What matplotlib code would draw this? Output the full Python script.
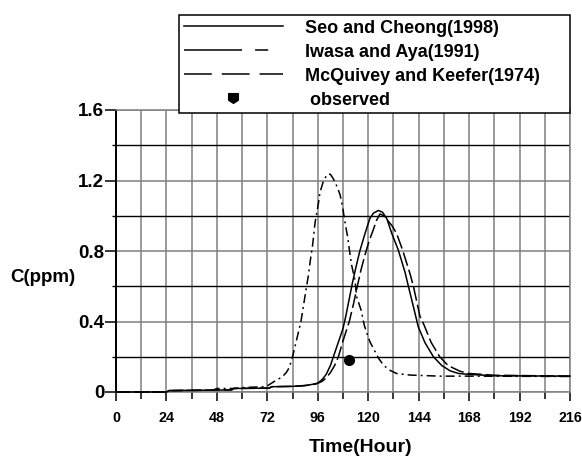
import numpy as np
import matplotlib
matplotlib.use("Agg")
import matplotlib.pyplot as plt
from matplotlib.lines import Line2D
from matplotlib.path import Path

plt.rcParams['font.family'] = ['Liberation Sans', 'DejaVu Sans']
plt.rcParams['font.weight'] = 'bold'
plt.rcParams['lines.scale_dashes'] = False

# ---------------- data ----------------
series_names = ["Seo and Cheong(1998)", "Iwasa and Aya(1991)",
                "McQuivey and Keefer(1974)", " observed"]

seo_t = [0, 24, 25, 55, 56, 73, 74, 84, 88, 92, 96, 98, 100, 102, 104, 106, 108,
         109.5, 111, 112.5, 114, 116, 118.5, 120.8, 122.5, 124.8, 126.8, 128.8,
         131.2, 134.3, 137.5, 139.1, 141.5, 143.8, 147, 151, 155, 159, 163, 168,
         180, 216]
seo_c = [0, 0, 0.008, 0.012, 0.02, 0.022, 0.03, 0.032, 0.035, 0.04, 0.05, 0.07,
         0.1, 0.15, 0.22, 0.29, 0.36, 0.44, 0.53, 0.62, 0.7, 0.8, 0.9, 0.985,
         1.015, 1.03, 1.02, 0.985, 0.9, 0.806, 0.68, 0.6, 0.484, 0.37, 0.28, 0.2,
         0.15, 0.12, 0.105, 0.1, 0.092, 0.09]

iwasa_t = [0, 24, 25, 55, 56, 73, 74, 84, 90, 95, 98, 100, 102, 104, 105.8, 108,
           111, 113, 114.8, 116.5, 118.5, 120.5, 122.4, 124, 125.6, 127.5, 129.5,
           131.5, 133.5, 136.5, 139.9, 141.5, 144.6, 146.2, 150, 154, 158, 163.6,
           168, 180, 216]
iwasa_c = [0, 0, 0.008, 0.012, 0.02, 0.022, 0.03, 0.032, 0.036, 0.045, 0.06, 0.08,
           0.11, 0.15, 0.2, 0.29, 0.4, 0.5, 0.6, 0.69, 0.78, 0.86, 0.92, 0.975, 1.01,
           1.0, 0.97, 0.94, 0.9, 0.8, 0.67, 0.6, 0.43, 0.39, 0.28, 0.2, 0.15, 0.118,
           0.105, 0.095, 0.09]

mcq_t = [0, 24, 26, 46, 48, 56, 60, 66, 70, 72, 74, 76, 79, 81, 82.5, 84, 86, 88,
         90, 91.5, 92.5, 93.5, 94.7, 96.3, 97, 98.5, 100, 101, 102, 103.4, 105,
         106.6, 107.8, 109, 110.2, 111, 112.1, 113.7, 114.5, 116.6, 118.1, 120,
         121, 123.2, 125, 127.2, 130, 133.5, 140, 154, 168, 216]
mcq_c = [0, 0, 0.008, 0.01, 0.02, 0.02, 0.025, 0.028, 0.03, 0.035, 0.05, 0.065,
         0.085, 0.11, 0.14, 0.2, 0.3, 0.4, 0.55, 0.66, 0.75, 0.83, 0.96, 1.07, 1.13,
         1.19, 1.225, 1.237, 1.235, 1.21, 1.17, 1.12, 1.05, 0.96, 0.88, 0.81, 0.72,
         0.635, 0.54, 0.465, 0.38, 0.31, 0.28, 0.23, 0.19, 0.153, 0.125, 0.105,
         0.096, 0.09, 0.09, 0.088]

obs_t = [111]
obs_c = [0.18]

x_ticks = [0, 24, 48, 72, 96, 120, 144, 168, 192, 216]
y_ticks = [0, 0.4, 0.8, 1.2, 1.6]
y_tick_labels = ["0", "0.4", "0.8", "1.2", "1.6"]

# ---------------- figure ----------------
W, H = 582, 458
fig = plt.figure(figsize=(W / 100, H / 100), dpi=100)
L, R, T, B = 116, 570, 110, 392
ax = fig.add_axes([L / W, 1 - B / H, (R - L) / W, (B - T) / H])

gray = '#808080'
ax.set_xlim(0, 216)
ax.set_ylim(0, 1.6)
ax.set_xticks(x_ticks)
ax.set_xticks(np.arange(12, 216, 24), minor=True)
ax.set_yticks(y_ticks)
ax.set_yticklabels(y_tick_labels)
ax.set_yticks([0.2, 0.6, 1.0, 1.4], minor=True)

ax.set_axisbelow(True)
ax.grid(which='major', axis='both', color=gray, lw=1.1)
ax.grid(which='minor', axis='x', color=gray, lw=1.1)
ax.grid(which='minor', axis='y', color='black', lw=1.0)

for s in ['top', 'right', 'bottom']:
    ax.spines[s].set_color(gray)
    ax.spines[s].set_linewidth(1.1)
ax.spines['left'].set_color('black')
ax.spines['left'].set_linewidth(1.4)

ax.tick_params(axis='y', which='major', direction='out', length=8, width=1.1,
               pad=0.5, labelsize=13.5)
ax.tick_params(axis='y', which='minor', direction='out', length=3, width=1.0)
ax.tick_params(axis='x', which='major', direction='out', length=6.5, width=1.1,
               pad=7.5, labelsize=10.3)
ax.tick_params(axis='x', which='minor', direction='out', length=5, width=1.1)

lw = 1.1
ax.plot(seo_t, seo_c, color='black', lw=lw, ls='-', clip_on=False, zorder=3)
l2, = ax.plot(iwasa_t, iwasa_c, color='black', lw=lw, clip_on=False, zorder=3)
l2.set_dashes((10, 3))
l3, = ax.plot(mcq_t, mcq_c, color='black', lw=lw, clip_on=False, zorder=3)
l3.set_dashes((6.5, 2.9, 1.4, 2.9))
ax.plot(obs_t, obs_c, ls='none', marker='o', ms=7, color='black', zorder=4)

ax.set_xlabel("Time(Hour)", fontsize=14, fontweight='bold', va='center')
ax.xaxis.set_label_coords((361 - L) / (R - L), (B - 447) / (B - T))
ax.set_ylabel("C(ppm)", fontsize=13.5, fontweight='bold', rotation=0,
              ha='right', va='center')
ax.yaxis.set_label_coords((75 - L) / (R - L), (B - 277) / (B - T))

# ---------------- legend ----------------
shield = Path([(-1, 1), (1, 1), (1, -0.35), (0, -1), (-1, -0.35), (-1, 1)],
              [Path.MOVETO, Path.LINETO, Path.LINETO, Path.LINETO, Path.LINETO,
               Path.CLOSEPOLY])
h1 = Line2D([], [], color='black', lw=lw, ls='-')
h2 = Line2D([], [], color='black', lw=lw)
h2.set_dashes((41.8, 9.4, 9.4, 30))
h3 = Line2D([], [], color='black', lw=lw)
h3.set_dashes((20, 7.2))
h4 = Line2D([], [], ls='none', marker=shield, ms=7, color='black')

lx0, ly0, lx1, ly1 = 179, 15, 570, 111
leg = fig.legend([h1, h2, h3, h4], series_names,
                 loc='upper left',
                 bbox_to_anchor=(lx0 / W, 1 - ly1 / H, (lx1 - lx0) / W, (ly1 - ly0) / H),
                 mode='expand', borderaxespad=0, borderpad=0.25,
                 labelspacing=0.39, handlelength=5.5, handletextpad=1.25,
                 fancybox=False, framealpha=1, edgecolor='black',
                 prop={'size': 13, 'weight': 'bold'})
leg.get_frame().set_linewidth(1.1)

fig.savefig("out.png", dpi=100)
